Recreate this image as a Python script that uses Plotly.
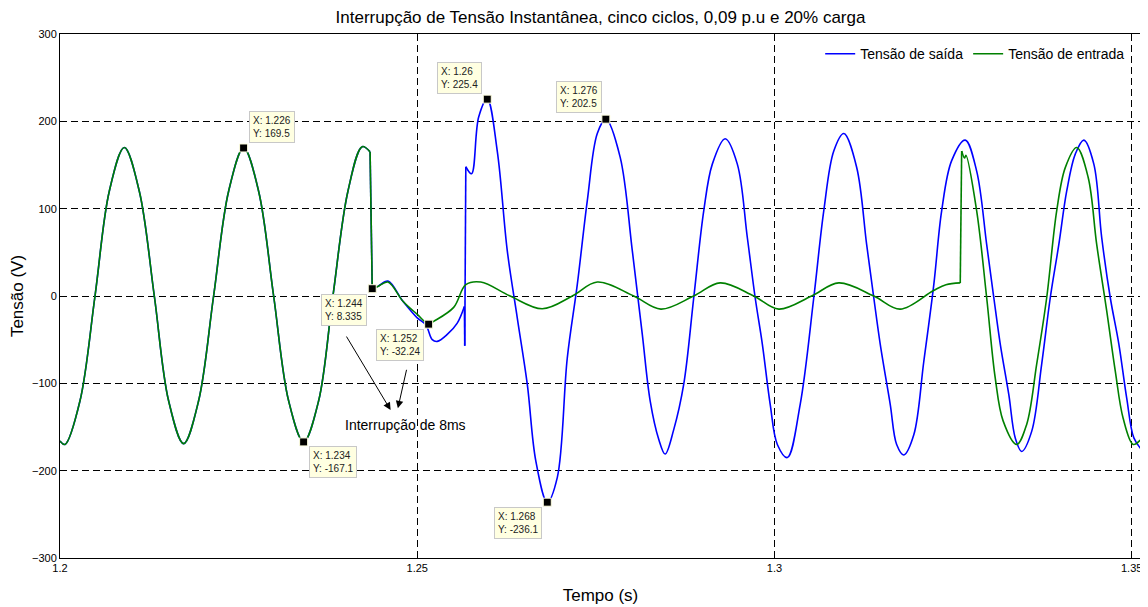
import plotly.graph_objects as go

# ---- data ----
# common part (both signals identical before the interruption)
pre_t = [1.2000, 1.2007, 1.2028, 1.2049, 1.2069, 1.2090, 1.2111, 1.2132, 1.2152,
         1.2173, 1.2194, 1.2215, 1.2236, 1.2257, 1.2278, 1.2299, 1.2320, 1.2341,
         1.2362, 1.2382, 1.2403, 1.2423]
pre_v = [-166, -170, -120, 0, 120, 170, 120, 0, -120,
         -169, -120, 0, 120, 169.5, 120, 0, -120, -167,
         -120, 0, 120, 171]

# output voltage (Tensão de saída) after the start of the interruption
out_t = [1.2434, 1.2437, 1.2445, 1.2459, 1.2480, 1.2500, 1.2512, 1.2521, 1.2528,
         1.2542, 1.2556, 1.2566, 1.25665, 1.2568, 1.2576, 1.2586, 1.2598, 1.2612,
         1.2626, 1.2640, 1.2654, 1.2666, 1.2682, 1.2696, 1.2710, 1.2724, 1.2738,
         1.2752, 1.2764, 1.2784, 1.2801, 1.2815, 1.2826, 1.2838, 1.2847, 1.2859,
         1.2873, 1.2887, 1.2901, 1.2913, 1.2931, 1.2948, 1.2962, 1.2973, 1.2983,
         1.2994, 1.3004, 1.3018, 1.3036, 1.3055, 1.3069, 1.3083, 1.3097, 1.3115,
         1.3129, 1.3139, 1.3148, 1.3162, 1.3171, 1.3181, 1.3195, 1.3209, 1.3223,
         1.3234, 1.3248, 1.3267, 1.3283, 1.3297, 1.3307, 1.3316, 1.3328, 1.3337,
         1.3346, 1.3360, 1.3374, 1.3386, 1.3398, 1.3409, 1.3421, 1.3433, 1.3447,
         1.3458, 1.3470, 1.3482, 1.3493, 1.3503, 1.3514]
out_v = [165, 8.3, 11, 17, -6, -25, -33, -50, -52,
         -44, -31, -12, -57, 148, 140, 205, 225.4, 166,
         52, -25, -101, -189, -236.1, -208, -71, 13, 109,
         186, 202.5, 159, 52, -44, -120, -164, -181, -153,
         -101, -2, 97.5, 151, 180, 151, 67, -2, -55,
         -124, -170, -185, -124, -2, 97.5, 166, 186, 147.5,
         59, -2, -55, -124, -170, -182, -159, -75, 13,
         97.5, 155, 178.5, 143, 59, -2, -55, -113, -162.5,
         -178, -155, -78, -2, 59, 120, 162.5, 178.5, 151,
         67, -2, -55, -117, -162.5, -176]

# input voltage (Tensão de entrada) after the start of the interruption
in_t = [1.2434, 1.2437, 1.2445, 1.2459, 1.2480, 1.2500, 1.2516, 1.2523, 1.2551,
        1.2568, 1.2589, 1.2630, 1.2675, 1.2717, 1.2752, 1.2803, 1.2841, 1.2887,
        1.2924, 1.2971, 1.3006, 1.3052, 1.3090, 1.3139, 1.3176, 1.3222, 1.3240,
        1.3260, 1.3262, 1.3266, 1.3268, 1.3283, 1.3297, 1.3309, 1.3320, 1.3339,
        1.3353, 1.3367, 1.3381, 1.3395, 1.3407, 1.3423, 1.3439, 1.3451, 1.3465,
        1.3477, 1.3488, 1.3502, 1.3512]
in_v = [165, 8.3, 11, 16, -6, -21, -32.24, -29, -13,
        13, 16, 0, -14.6, 0, 16, 0, -15, 0,
        15, 0, -15, 0, 15, 0, -15, 6, 13,
        15, 166, 158, 161, 97.5, -2, -94, -143, -170,
        -147, -78, -2, 97.5, 147, 170, 136, 59, -17,
        -86, -140, -170, -165]

# data tips
tip_x = [1.2257, 1.2341, 1.2437, 1.2516, 1.2598, 1.2682, 1.2764]
tip_y = [169.5, -167.1, 8.335, -32.24, 225.4, -236.1, 202.5]
tip_lbl_x = ["1.226", "1.234", "1.244", "1.252", "1.26", "1.268", "1.276"]
tip_lbl_y = ["169.5", "-167.1", "8.335", "-32.24", "225.4", "-236.1", "202.5"]

x_ticks = [1.2, 1.25, 1.3, 1.35]
x_tick_text = ["1.2", "1.25", "1.3", "1.35"]
y_ticks = [-300, -200, -100, 0, 100, 200, 300]

FONT = "Liberation Sans, Arial, Helvetica, sans-serif"

blue_t = pre_t + out_t
blue_v = pre_v + out_v
green_t = pre_t + in_t
green_v = pre_v + in_v


def add_signal(fig, t, v, name, color):
    """Smooth (spline) pieces, with abrupt steps drawn as straight segments."""
    steep = [i for i in range(len(t) - 1)
             if abs(v[i + 1] - v[i]) / (t[i + 1] - t[i]) > 300000]
    first = True
    start = 0
    pieces = []
    for i in steep:
        if i > start:
            pieces.append((start, i, "spline"))
        pieces.append((i, i + 1, "linear"))
        start = i + 1
    pieces.append((start, len(t) - 1, "spline"))
    for a, b, shape in pieces:
        fig.add_trace(go.Scatter(x=t[a:b + 1], y=v[a:b + 1], mode="lines", name=name,
                                 legendgroup=name, showlegend=first,
                                 line=dict(color=color, width=1.6, shape=shape,
                                           smoothing=1.0 if shape == "spline" else None)))
        first = False


fig = go.Figure()
add_signal(fig, blue_t, blue_v, "Tensão de saída", "#0000ff")
add_signal(fig, green_t, green_v, "Tensão de entrada", "#008000")
fig.add_trace(go.Scatter(x=tip_x, y=tip_y, mode="markers", showlegend=False,
                         marker=dict(symbol="square", size=8, color="black",
                                     line=dict(color="#ffffe1", width=1))))

# data tip boxes: (xanchor, yanchor, xshift, yshift)
tip_place = [("left", "bottom", 5, 5), ("left", "top", 5, -4), ("right", "top", -5, -5),
             ("right", "top", -5, -5), ("right", "bottom", -5, 5), ("right", "top", -5, -5),
             ("right", "bottom", -4, 6)]
for tx, ty, lx, ly, (xa, ya, xs, ys) in zip(tip_x, tip_y, tip_lbl_x, tip_lbl_y, tip_place):
    fig.add_annotation(x=tx, y=ty, xref="x", yref="y", showarrow=False,
                       text=f"X: {lx}<br>Y: {ly}", align="left",
                       xanchor=xa, yanchor=ya, xshift=xs, yshift=ys,
                       font=dict(family=FONT, size=10, color="#222222"),
                       bgcolor="#ffffe1", bordercolor="#c8c8c8", borderwidth=1, borderpad=3)

# interruption text and arrows
fig.add_annotation(x=1.2483, y=-148, xref="x", yref="y", showarrow=False,
                   text="Interrupção de 8ms", font=dict(family=FONT, size=14, color="black"))
fig.add_annotation(x=1.24627, y=-130.6, xref="x", yref="y", ax=-45, ay=-75,
                   showarrow=True, arrowhead=2, arrowsize=1.5, arrowwidth=1, arrowcolor="black", text="")
fig.add_annotation(x=1.24729, y=-128.6, xref="x", yref="y", ax=9, ay=-40,
                   showarrow=True, arrowhead=2, arrowsize=1.5, arrowwidth=1, arrowcolor="black", text="")

axis_common = dict(showline=True, mirror=True, linecolor="black", linewidth=1,
                   ticks="inside", ticklen=4, tickcolor="black", automargin=False,
                   showgrid=True, gridcolor="black", gridwidth=1, griddash="7px,4px",
                   zeroline=False, tickfont=dict(family=FONT, size=11, color="black"))

fig.update_layout(
    width=1140, height=599,
    margin=dict(l=52, r=7, t=26, b=49, autoexpand=False),
    paper_bgcolor="white", plot_bgcolor="white",
    font=dict(family=FONT, color="black"),
    title=dict(text="Interrupção de Tensão Instantânea, cinco ciclos, 0,09 p.u e 20% carga",
               x=0.5, xref="paper", xanchor="center", y=0.985, yanchor="middle",
               font=dict(family=FONT, size=17, color="black")),
    xaxis=dict(range=[1.2, 1.3513], tickvals=x_ticks, ticktext=x_tick_text,
               title=dict(text="Tempo (s)", font=dict(family=FONT, size=17), standoff=15),
               **axis_common),
    yaxis=dict(range=[-300, 300], tickvals=y_ticks,
               title=dict(text="Tensão (V)", font=dict(family=FONT, size=17), standoff=8),
               **axis_common),
    legend=dict(orientation="h", x=0.99, xanchor="right", y=0.992, yanchor="top",
                bgcolor="rgba(255,255,255,0)", font=dict(family=FONT, size=14, color="black")),
)

fig.write_html("out.html")
